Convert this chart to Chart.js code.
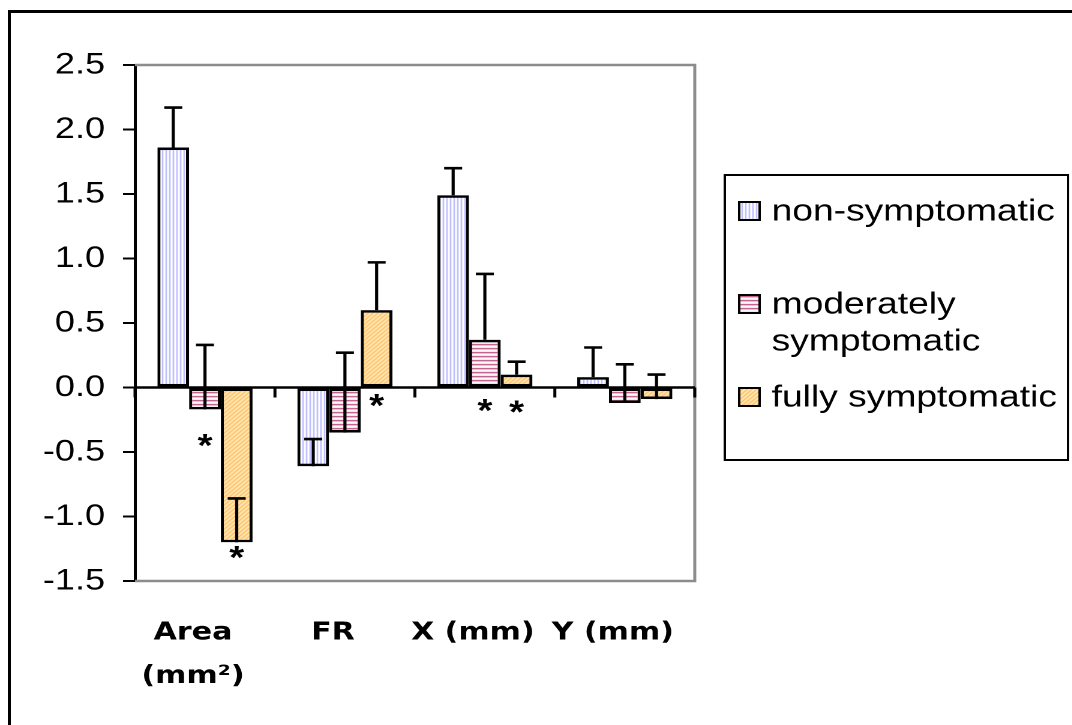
<!DOCTYPE html>
<html>
<head>
<meta charset="utf-8">
<script src="https://cdn.jsdelivr.net/npm/chart.js@4/dist/chart.umd.min.js"></script>
<style>
  html, body { margin: 0; padding: 0; background: #fff; overflow: hidden; }
  #frame { position: absolute; left: 8px; top: 10px; width: 1200px; height: 800px;
           border-top: 3px solid #000; border-left: 3px solid #000; }
  /* the original figure is stretched sideways, so the chart is drawn narrow and widened */
  #wrap { position: absolute; left: 0; top: 0; width: 893.33px; height: 725px;
          transform: scaleX(1.2); transform-origin: 0 0; }
</style>
</head>
<body>
<div id="frame"></div>
<div id="wrap"><canvas id="chart"></canvas></div>
<script>
const categories = [['Area', '(mm²)'], 'FR', 'X (mm)', 'Y (mm)'];
const seriesNames = ['non-symptomatic', 'moderately symptomatic', 'fully symptomatic'];

const nonSymptomatic = [1.86, -0.61, 1.49, 0.08];
const nonErr = [0.31, 0.21, 0.21, 0.23];
const moderate = [-0.17, -0.35, 0.37, -0.12];
const moderateErr = [0.50, 0.62, 0.51, 0.30];
const fully = [-1.20, 0.60, 0.10, -0.09];
const fullyErr = [0.34, 0.37, 0.10, 0.19];

// where the significance asterisks sit (y value), null = none
const nonStars = [null, null, null, null];
const moderateStars = [-0.41, null, -0.14, null];
const fullyStars = [-1.28, -0.10, -0.15, null];

const yMin = -1.5, yMax = 2.5, yStep = 0.5;

const FONT = "'Liberation Sans', Arial, sans-serif";
Chart.defaults.font.family = FONT;
Chart.defaults.color = '#000';

function makePattern(w, h, draw) {
    const c = document.createElement('canvas');
    c.width = w; c.height = h;
    const g = c.getContext('2d');
    draw(g, w, h);
    return g.createPattern(c, 'repeat');
}

const bluePattern = makePattern(3, 2, (g, w, h) => {
    g.fillStyle = '#fff'; g.fillRect(0, 0, w, h);
    g.fillStyle = '#aaaaff'; g.fillRect(0, 0, 1, h);
});
const pinkPattern = makePattern(2, 4, (g, w, h) => {
    g.fillStyle = '#fff'; g.fillRect(0, 0, w, h);
    g.fillStyle = '#b03c72'; g.fillRect(0, 0, w, 1);
    g.fillStyle = '#eccadb'; g.fillRect(0, 1, w, 1);
});
const orangePattern = makePattern(4, 4, (g, w, h) => {
    g.fillStyle = '#fff0c8'; g.fillRect(0, 0, w, h);
    g.strokeStyle = '#ffb040'; g.lineWidth = 1.1;
    g.beginPath();
    g.moveTo(-1, 5); g.lineTo(5, -1);
    g.moveTo(-1, 1); g.lineTo(1, -1);
    g.moveTo(3, 5); g.lineTo(5, 3);
    g.stroke();
});

// axes frame, zero line, error bars and asterisks
const decorations = {
    id: 'decorations',
    beforeDatasetsDraw(chart) {
        const { ctx, chartArea: a } = chart;
        ctx.save();
        ctx.strokeStyle = '#8c8c8c';
        ctx.lineWidth = 2.5;
        ctx.beginPath();
        ctx.moveTo(a.left, a.top); ctx.lineTo(a.right, a.top);
        ctx.lineTo(a.right, a.bottom); ctx.lineTo(a.left, a.bottom);
        ctx.stroke();
        ctx.restore();
    },
    afterDatasetsDraw(chart) {
        const { ctx, chartArea: a, scales: { x, y } } = chart;
        const y0 = y.getPixelForValue(0);
        ctx.save();
        ctx.strokeStyle = '#000';
        ctx.lineWidth = 2.5;
        ctx.beginPath();
        ctx.moveTo(a.left, y0); ctx.lineTo(a.right, y0);
        ctx.stroke();

        ctx.beginPath();
        for (let i = 0; i <= categories.length; i++) {
            const px = x.getPixelForValue(i - 0.5);
            ctx.moveTo(px, y0); ctx.lineTo(px, y0 + 10);
        }
        ctx.stroke();

        chart.data.datasets.forEach((ds, di) => {
            const meta = chart.getDatasetMeta(di);
            meta.data.forEach((bar, i) => {
                const v = ds.data[i];
                const base = y.getPixelForValue(v);
                const top = y.getPixelForValue(v + ds.errors[i]);
                ctx.lineWidth = 2.6;
                ctx.beginPath();
                ctx.moveTo(bar.x, base); ctx.lineTo(bar.x, top);
                ctx.moveTo(bar.x - 7.5, top); ctx.lineTo(bar.x + 7.5, top);
                ctx.stroke();

                if (ds.stars[i] != null) {
                    ctx.font = 'bold 32px ' + FONT;
                    ctx.fillStyle = '#000';
                    ctx.textAlign = 'center';
                    ctx.textBaseline = 'alphabetic';
                    const m = ctx.measureText('*');
                    const sy = y.getPixelForValue(ds.stars[i]);
                    const off = (m.actualBoundingBoxAscent - m.actualBoundingBoxDescent) / 2;
                    ctx.fillText('*', bar.x, sy + off);
                }
            });
        });
        ctx.restore();
    }
};

// boxed legend on the right, with wrapped labels
const boxLegend = {
    id: 'boxLegend',
    afterDraw(chart) {
        const { ctx } = chart;
        const box = { left: 604, top: 175, right: 890, bottom: 460 };
        const textX = 643, maxW = box.right - textX - 4;
        ctx.save();
        ctx.strokeStyle = '#000';
        ctx.lineWidth = 2;
        ctx.strokeRect(box.left, box.top, box.right - box.left, box.bottom - box.top);

        ctx.font = '31px ' + FONT;
        ctx.textAlign = 'left';
        ctx.textBaseline = 'middle';
        chart.data.datasets.forEach((ds, i) => {
            const cy = 211 + 93 * i;
            ctx.fillStyle = ds.backgroundColor;
            ctx.fillRect(616, cy - 9, 17, 18);
            ctx.lineWidth = 2;
            ctx.strokeRect(616, cy - 9, 17, 18);

            const words = ds.label.split(' ');
            const lines = [];
            let cur = '';
            words.forEach(w => {
                const t = cur ? cur + ' ' + w : w;
                if (ctx.measureText(t).width > maxW && cur) { lines.push(cur); cur = w; }
                else cur = t;
            });
            lines.push(cur);
            ctx.fillStyle = '#000';
            lines.forEach((ln, k) => ctx.fillText(ln, textX, cy + 37 * k + 1));
        });
        ctx.restore();
    }
};

new Chart(document.getElementById('chart'), {
    type: 'bar',
    data: {
        labels: categories,
        datasets: [
            { label: seriesNames[0], data: nonSymptomatic, errors: nonErr, stars: nonStars,
              backgroundColor: bluePattern },
            { label: seriesNames[1], data: moderate, errors: moderateErr, stars: moderateStars,
              backgroundColor: pinkPattern },
            { label: seriesNames[2], data: fully, errors: fullyErr, stars: fullyStars,
              backgroundColor: orangePattern }
        ]
    },
    options: {
        responsive: true,
        maintainAspectRatio: false,
        animation: false,
        devicePixelRatio: 2,
        layout: { padding: { top: 65, right: 314.33, left: 0, bottom: 0 } },
        datasets: {
            bar: {
                borderColor: '#000',
                borderWidth: 2.6,
                borderSkipped: false,
                categoryPercentage: 0.68,
                barPercentage: 1
            }
        },
        scales: {
            x: {
                afterFit(s) { s.height = 144; },
                grid: { display: false, drawTicks: false },
                border: { display: false },
                ticks: {
                    color: '#000',
                    font: { family: "'DejaVu Sans', sans-serif", size: 25, weight: 'bold', lineHeight: 1.75 },
                    padding: 30,
                    labelOffset: -10,
                    maxRotation: 0,
                    autoSkip: false
                }
            },
            y: {
                min: yMin,
                max: yMax,
                afterFit(s) { s.width = 112.5; },
                ticks: {
                    stepSize: yStep,
                    color: '#000',
                    font: { size: 30 },
                    padding: 15,
                    callback: v => v.toFixed(1)
                },
                grid: { drawOnChartArea: false, drawTicks: true, tickLength: 10, color: '#000', lineWidth: 2 },
                border: { display: true, color: '#000', width: 2.5 }
            }
        },
        plugins: {
            legend: { display: false },
            tooltip: { enabled: false }
        }
    },
    plugins: [decorations, boxLegend]
});
</script>
</body>
</html>
